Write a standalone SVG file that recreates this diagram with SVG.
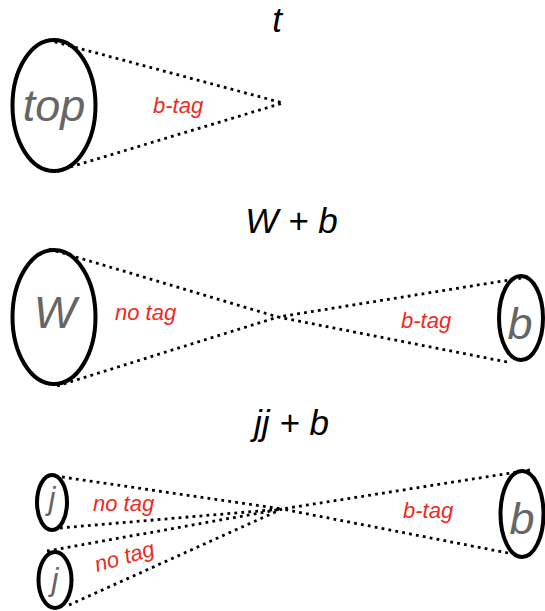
<svg xmlns="http://www.w3.org/2000/svg" width="545" height="611" viewBox="0 0 545 611">
<style>
.title{font-family:"Liberation Sans",Arial,sans-serif;font-style:italic;font-size:35px;fill:#000;text-anchor:middle}
.node{fill:none;stroke:#000;stroke-width:4}
.nl{font-family:"Liberation Sans",Arial,sans-serif;font-style:italic;font-size:45px;fill:#666;text-anchor:middle}
.jl{font-family:"Liberation Sans",Arial,sans-serif;font-style:italic;font-size:31px;fill:#666;text-anchor:middle}
.edge{fill:none;stroke:#000;stroke-width:2.8;stroke-dasharray:2.8 4.2}
.tag{font-family:"Liberation Sans",Arial,sans-serif;font-style:italic;font-size:22px;fill:#ee2a1e}
</style>
<rect width="545" height="611" fill="#fff"/>
<g id="titles">
<text class="title" x="277" y="32">t</text>
<text class="title" x="291.5" y="233">W + b</text>
<text class="title" x="291.5" y="435">jj + b</text>
</g>
<g id="connectors">
<path class="edge" d="M48,40 L283,103 M57,171 L283,103"/>
<path class="edge" d="M49,249 L278,317 M57,386 L278,317 M528,277 L278,317 M507,362 L278,317"/>
<path class="edge" d="M62,477 L282,509 M60,528 L282,509 M47,551 L282,509 M69,605 L282,509 M530,470 L282,509 M508,553 L282,509"/>
</g>
<g id="labels">
<text class="tag" x="153" y="113">b-tag</text>
<text class="tag" x="115" y="320">no tag</text>
<text class="tag" x="401" y="328">b-tag</text>
<text class="tag" x="93" y="511">no tag</text>
<text class="tag" x="97" y="572" transform="rotate(-16 97 572)">no tag</text>
<text class="tag" x="403" y="518">b-tag</text>
</g>
<g id="node-top">
<ellipse class="node" cx="54" cy="105.5" rx="41.5" ry="65.5"/>
<text class="nl" x="54" y="121">top</text>
</g>
<g id="node-W">
<ellipse class="node" cx="54" cy="317" rx="41.5" ry="67"/>
<text class="nl" x="55" y="328">W</text>
</g>
<g id="node-b1">
<ellipse class="node" cx="521" cy="318" rx="22" ry="42"/>
<text class="nl" x="520" y="339">b</text>
</g>
<g id="node-j1">
<ellipse class="node" cx="52" cy="502.5" rx="15" ry="27.5"/>
<text class="jl" x="52" y="509">j</text>
</g>
<g id="node-j2">
<ellipse class="node" cx="55" cy="580" rx="16.5" ry="28"/>
<text class="jl" x="55" y="590">j</text>
</g>
<g id="node-b2">
<ellipse class="node" cx="522" cy="514" rx="21.5" ry="43"/>
<text class="nl" x="522" y="534">b</text>
</g>
</svg>
